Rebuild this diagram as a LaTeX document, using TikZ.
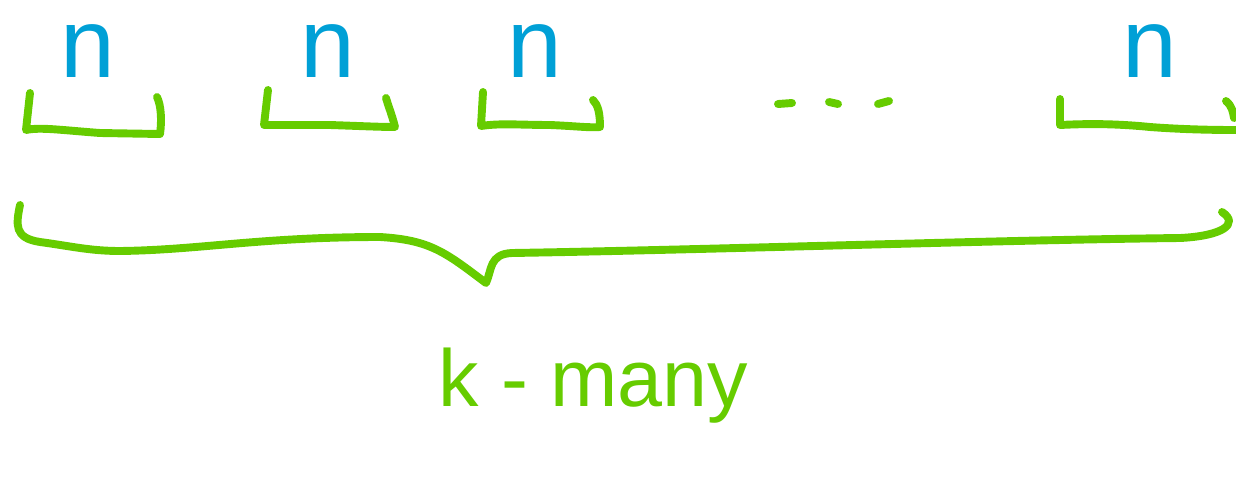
\documentclass[tikz,border=0pt]{standalone}
\usepackage{fontspec}
\setmainfont{Liberation Sans}
\definecolor{grn}{RGB}{102,204,0}
\definecolor{blu}{RGB}{0,160,214}
\tikzset{
  gline/.style={draw=grn, line width=4.5pt, line cap=round, line join=round},
  nlab/.style={text=blu, font=\fontsize{56}{56}\selectfont, inner sep=0pt, anchor=base},
  klab/.style={text=grn, font=\fontsize{46}{46}\selectfont, inner sep=0pt, anchor=base west}
}
\begin{document}
\begin{tikzpicture}[x=0.02cm, y=-0.02cm]
\useasboundingbox (0,0) rectangle (1236,480);
% n labels
\node[nlab] (n1) at (88,77) {n};
\node[nlab] (n2) at (328,77) {n};
\node[nlab] (n3) at (535,77) {n};
\node[nlab] (n4) at (1150,77) {n};
% small brackets
\draw[gline] (30,93) -- (26,130) .. controls (40,127) and (60,130) .. (100,133) -- (160,134) .. controls (162,120) and (161,105) .. (157,97);
\draw[gline] (268,90) -- (264,125) -- (330,125) .. controls (360,126) and (380,127) .. (395,127) .. controls (392,115) and (389,108) .. (386,98);
\draw[gline] (483,92) -- (481,126) .. controls (500,123) and (520,125) .. (550,125) .. controls (575,126) and (590,128) .. (600,127) .. controls (600,113) and (598,105) .. (593,100);
\draw[gline] (1060,99) -- (1060,125) .. controls (1080,124) and (1110,123) .. (1150,127) .. controls (1190,130) and (1225,130) .. (1236,130);
\draw[gline] (1226,101) .. controls (1232,106) and (1233,112) .. (1234,118);
% dots
\draw[gline] (778,104) -- (792,103);
\draw[gline] (829,102) -- (838,104);
\draw[gline] (878,104) -- (889,101);
% big brace
\draw[gline] (20,205) .. controls (16,225) and (14,238) .. (40,242)
  .. controls (70,246) and (90,251) .. (120,251)
  .. controls (200,250) and (260,237) .. (380,237)
  .. controls (430,240) and (445,252) .. (486,283)
  .. controls (492,270) and (489,254) .. (512,253)
  .. controls (700,250) and (1000,240) .. (1180,238)
  .. controls (1222,236) and (1240,224) .. (1222,212);
% k-many
\node[klab] (km) at (438,406) {k - many};
\end{tikzpicture}
\end{document}
